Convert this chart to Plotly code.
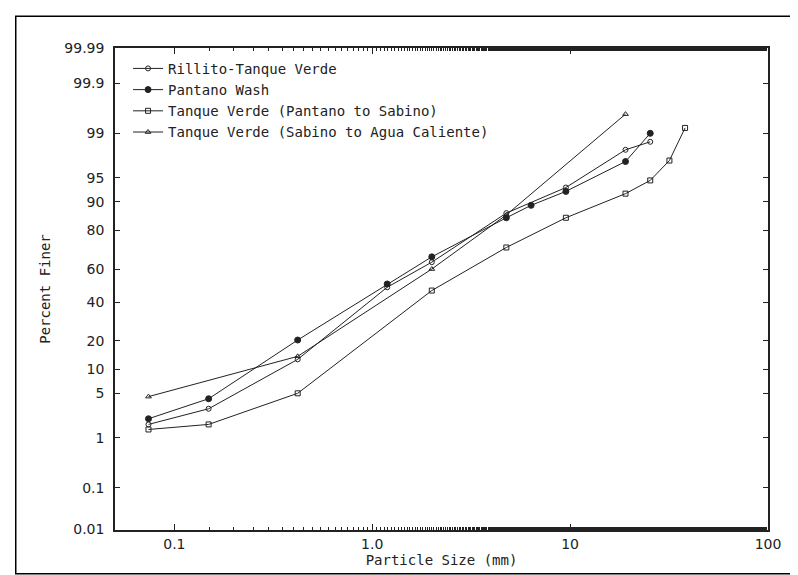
from statistics import NormalDist
import plotly.graph_objects as go

nd = NormalDist()

def z(p):
    # probability-paper scale: percent -> standard normal quantile
    return nd.inv_cdf(p / 100.0)

# sieve sizes (mm) and percent finer
rillito_size = [0.074, 0.149, 0.42, 1.19, 2.0, 4.76, 9.52, 19.05, 25.4]
rillito_pct = [1.7, 3.0, 13, 49, 64, 86.6, 93.3, 98.1, 98.6]

pantano_size = [0.074, 0.149, 0.42, 1.19, 2.0, 4.76, 6.35, 9.52, 19.05, 25.4]
pantano_pct = [2.1, 4.2, 20.3, 51, 67, 85, 89, 92.5, 97.1, 99.0]

tv_ps_size = [0.074, 0.149, 0.42, 2.0, 4.76, 9.52, 19.05, 25.4, 31.75, 38.1]
tv_ps_pct = [1.4, 1.7, 5.0, 47, 72, 85, 92, 94.6, 97.2, 99.2]

tv_sa_size = [0.074, 0.42, 2.0, 4.76, 19.05]
tv_sa_pct = [4.5, 14, 60, 86, 99.56]

y_ticks = [0.01, 0.1, 1, 5, 10, 20, 40, 60, 80, 90, 95, 99, 99.9]
y_labels = ["0.01", "0.1", "1", "5", "10", "20", "40", "60", "80", "90", "95", "99", "99.9"]
x_ticks = [0.1, 1, 10, 100]
x_labels = ["0.1", "1.0", "10", "100"]

ink = "#222"
series = [
    ("Rillito-Tanque Verde", rillito_size, rillito_pct, "circle-open", 5),
    ("Pantano Wash", pantano_size, pantano_pct, "circle", 6),
    ("Tanque Verde (Pantano to Sabino)", tv_ps_size, tv_ps_pct, "square-open", 5),
    ("Tanque Verde (Sabino to Agua Caliente)", tv_sa_size, tv_sa_pct, "triangle-up-open", 5),
]

fig = go.Figure()
for name, xs, ps, sym, sz in series:
    fig.add_trace(go.Scatter(
        x=xs, y=[z(p) for p in ps], name=name, mode="lines+markers",
        line=dict(color=ink, width=1),
        marker=dict(symbol=sym, size=sz, color=ink, line=dict(color=ink, width=1)),
    ))

y_top = 3.63
y_bot = z(0.01) - 0.014

fig.update_layout(
    width=798, height=575,
    margin=dict(l=107, r=38, t=40, b=53),
    paper_bgcolor="white", plot_bgcolor="white",
    font=dict(family="DejaVu Sans", size=14, color=ink),
    showlegend=True,
    legend=dict(x=0.02, y=0.99, xanchor="left", yanchor="top",
                bgcolor="rgba(0,0,0,0)", tracegroupgap=0,
                font=dict(family="DejaVu Sans Mono", size=14, color=ink)),
    xaxis=dict(type="log", range=[-1.3, 2.0], tickvals=x_ticks, ticktext=x_labels,
               ticks="inside", ticklen=6, tickcolor=ink, showline=True, linecolor=ink,
               linewidth=1.5, mirror="ticks", showgrid=False, zeroline=False,
               minor=dict(ticks="inside", ticklen=3, tickcolor=ink, showgrid=False),
               title=dict(text="Particle Size (mm)", standoff=0,
                          font=dict(family="DejaVu Sans Mono", size=14))),
    yaxis=dict(range=[y_bot, y_top],
               tickvals=[z(t) for t in y_ticks] + [y_top],
               ticktext=y_labels + ["99.99"],
               ticks="inside", ticklen=5, tickcolor=ink, showline=True, linecolor=ink,
               linewidth=1.5, mirror="ticks", showgrid=False, zeroline=False,
               ticklabelstandoff=6,
               title=dict(text="Percent Finer", standoff=10,
                          font=dict(family="DejaVu Sans Mono", size=14))),
    shapes=[dict(type="rect", xref="paper", yref="paper",
                 x0=-0.152, x1=1.046, y0=-0.091, y1=1.066,
                 line=dict(color="black", width=1.5))],
)

fig.write_html("out.html")
